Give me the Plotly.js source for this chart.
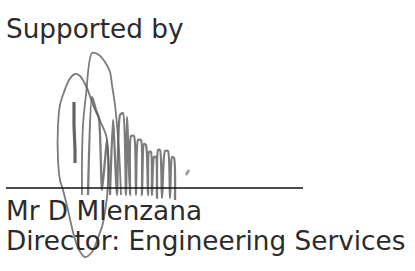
<!DOCTYPE html>
<html><head><meta charset="utf-8">
<script src="https://cdn.plot.ly/plotly-3.0.1.min.js"></script>
<style>html,body{margin:0;padding:0;background:#fff}#c{width:415px;height:271px}</style>
</head><body><div id="c"></div>
<script>
// Text lines
const textLines = ["Supported by", "Mr D Mlenzana", "Director: Engineering Services"];
const textX = [6, 6, 6];
const textY = [29, 211, 241];

// Signature line
const lineX = [6, 303];
const lineY = [188, 188];

// Signature strokes (page pixel coordinates)
const loopX = [82,82,83,86,92,99,105,110,112,115,117,119,120,121,null,
               80,75,69,64,60,58,58,60,63,68,73,78,85,92,98,103,106,107,108,108,106,102,97,93,87,80];
const loopY = [195,160,125,95,53,55,62,72,85,105,125,150,170,195,null,
               76,74,80,92,105,125,160,180,190,210,232,248,257,252,238,223,205,197,180,150,135,125,114,105,88,76];
const zigX = [88,92,96,99,102,105,107,110,110,113,117,120,123,126,127,130,131,134,136,138,141,142,144,146,148,149,151,152,154,156,157,158,160,162,165,168,170,172,174,175];
const zigY = [195,97,110,118,190,160,140,195,195,120,195,115,113,195,117,195,136,136,195,140,140,195,144,145,195,152,152,195,157,157,198,150,150,198,151,151,198,157,158,200];
const strokeX = [74,74,75,75];
const strokeY = [102,125,150,163];
const dotX = [186,189];
const dotY = [175,170];

const sigColor = 'rgba(90,90,90,0.8)';
const data = [
  {x: loopX, y: loopY, mode: 'lines', line: {color: sigColor, width: 1.8, shape: 'spline', smoothing: 0.8}, connectgaps: false, hoverinfo: 'skip'},
  {x: zigX, y: zigY, mode: 'lines', line: {color: sigColor, width: 2.3, shape: 'spline', smoothing: 0.6}, hoverinfo: 'skip'},
  {x: strokeX, y: strokeY, mode: 'lines', line: {color: 'rgba(75,75,75,0.85)', width: 3.2}, hoverinfo: 'skip'},
  {x: dotX, y: dotY, mode: 'lines', line: {color: 'rgba(110,110,110,0.7)', width: 2.5}, hoverinfo: 'skip'},
  {x: lineX, y: lineY, mode: 'lines', line: {color: '#111', width: 1.4}, hoverinfo: 'skip'}
];

const annotations = textLines.map((t, i) => ({
  text: t, x: textX[i], y: textY[i], xref: 'x', yref: 'y',
  xanchor: 'left', yanchor: 'middle', showarrow: false, borderpad: 0, borderwidth: 0,
  font: {family: 'DejaVu Sans', size: 26.3, color: '#2b2b2b'}
}));

const layout = {
  width: 415, height: 271,
  margin: {l: 0, r: 0, t: 0, b: 0},
  paper_bgcolor: '#fff', plot_bgcolor: '#fff',
  showlegend: false,
  xaxis: {range: [0, 415], visible: false, fixedrange: true},
  yaxis: {range: [271, 0], visible: false, fixedrange: true},
  annotations: annotations
};
Plotly.newPlot('c', data, layout, {staticPlot: true, displayModeBar: false});
</script></body></html>
